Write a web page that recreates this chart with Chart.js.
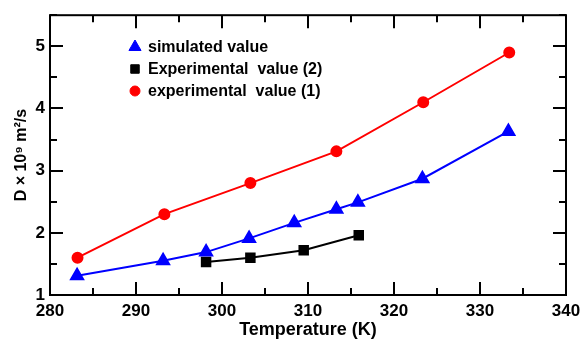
<!DOCTYPE html>
<html lang="en">
<head>
  <meta charset="UTF-8">
  <title>Diffusion coefficient vs temperature</title>
  <script src="https://cdn.jsdelivr.net/npm/chart.js"></script>
  <style>
    html, body { margin: 0; padding: 0; background: #fff; }
    #wrap { width: 587px; height: 339px; }
  </style>
</head>
<body>
  <div id="wrap"><canvas id="grafico" width="587" height="339"></canvas></div>

  <script>
    // values
    const simT = [283.15, 293.15, 298.15, 303.15, 308.4, 313.3, 315.8, 323.3, 333.3];
    const simD = [1.31, 1.55, 1.69, 1.91, 2.16, 2.38, 2.49, 2.87, 3.63];

    const exp2T = [298.15, 303.3, 309.5, 315.9];
    const exp2D = [1.53, 1.60, 1.72, 1.96];

    const exp1T = [283.2, 293.3, 303.3, 313.3, 323.4, 333.4];
    const exp1D = [1.60, 2.30, 2.80, 3.31, 4.10, 4.90];

    const xTicks = [280, 290, 300, 310, 320, 330, 340];
    const yTicks = [1, 2, 3, 4, 5];

    const pts = (xs, ys) => xs.map((x, i) => ({ x, y: ys[i] }));
    const FONT = 'Liberation Sans, Arial, sans-serif';

    // inward ticks on all four sides + frame
    const frameTicks = {
      id: 'frameTicks',
      afterDraw(chart) {
        const { ctx, chartArea: a } = chart;
        const xs = chart.scales.x, ys = chart.scales.y;
        ctx.save();
        ctx.strokeStyle = '#000';
        ctx.lineWidth = 2;
        ctx.strokeRect(a.left, a.top, a.right - a.left, a.bottom - a.top);
        ctx.beginPath();
        for (let v = 280; v <= 340; v += 5) {
          const p = Math.round(xs.getPixelForValue(v));
          const len = v % 10 === 0 ? 13 : 7;
          ctx.moveTo(p, a.bottom); ctx.lineTo(p, a.bottom - len);
          ctx.moveTo(p, a.top); ctx.lineTo(p, a.top + len);
        }
        for (let v = 1; v <= 5.5; v += 0.5) {
          const p = Math.round(ys.getPixelForValue(v));
          const len = v % 1 === 0 ? 13 : 7;
          ctx.moveTo(a.left, p); ctx.lineTo(a.left + len, p);
          ctx.moveTo(a.right, p); ctx.lineTo(a.right - len, p);
        }
        ctx.stroke();
        ctx.restore();
      }
    };

    // legend inside the plot
    const innerLegend = {
      id: 'innerLegend',
      afterDraw(chart) {
        const { ctx } = chart;
        const items = [
          { ds: 0, y: 47, text: 'simulated value' },
          { ds: 1, y: 69, text: 'Experimental  value (2)' },
          { ds: 2, y: 91, text: 'experimental  value (1)' }
        ];
        ctx.save();
        ctx.font = 'bold 16px ' + FONT;
        ctx.textBaseline = 'middle';
        items.forEach(it => {
          const d = chart.data.datasets[it.ds];
          ctx.fillStyle = d.pointBackgroundColor;
          ctx.strokeStyle = d.pointBackgroundColor;
          Chart.helpers.drawPoint(ctx, {
            pointStyle: d.pointStyle, radius: d.pointRadius, rotation: 0, borderWidth: 1
          }, 135, it.y);
          ctx.fillStyle = '#000';
          ctx.fillText(it.text, 148, it.y + 1);
        });
        ctx.restore();
      }
    };

    new Chart(document.getElementById('grafico'), {
      type: 'scatter',
      data: {
        datasets: [
          {
            label: 'simulated value',
            data: pts(simT, simD),
            showLine: true,
            borderColor: '#0000ff',
            borderWidth: 2,
            pointStyle: 'triangle',
            pointRadius: 7,
            pointBackgroundColor: '#0000ff',
            pointBorderColor: '#0000ff'
          },
          {
            label: 'Experimental value (2)',
            data: pts(exp2T, exp2D),
            showLine: true,
            borderColor: '#000',
            borderWidth: 2,
            pointStyle: 'rect',
            pointRadius: 6,
            pointBackgroundColor: '#000',
            pointBorderColor: '#000'
          },
          {
            label: 'experimental value (1)',
            data: pts(exp1T, exp1D),
            showLine: true,
            borderColor: '#ff0000',
            borderWidth: 2,
            pointStyle: 'circle',
            pointRadius: 5,
            pointBackgroundColor: '#ff0000',
            pointBorderColor: '#ff0000'
          }
        ]
      },
      options: {
        responsive: false,
        animation: false,
        layout: { padding: { top: 9, right: 21, left: 0, bottom: 0 } },
        plugins: { legend: { display: false }, tooltip: { enabled: false } },
        scales: {
          x: {
            type: 'linear',
            min: 280, max: 340,
            afterBuildTicks: s => { s.ticks = xTicks.map(v => ({ value: v })); },
            afterFit: s => { s.height = 44; },
            grid: { display: false, drawTicks: false },
            border: { display: false },
            ticks: { color: '#000', padding: 6, font: { family: FONT, size: 17, weight: 'bold' } },
            title: {
              display: true, text: 'Temperature (K)', color: '#000', padding: { top: 0, bottom: 0 },
              font: { family: FONT, size: 18, weight: 'bold', lineHeight: 1 }
            }
          },
          y: {
            min: 1, max: 5.5,
            afterBuildTicks: s => { s.ticks = yTicks.map(v => ({ value: v })); },
            afterFit: s => { s.width = 50; },
            grid: { display: false, drawTicks: false },
            border: { display: false },
            ticks: { color: '#000', padding: 5, font: { family: FONT, size: 17, weight: 'bold' } },
            title: {
              display: true, text: 'D × 10⁹ m²/s', color: '#000', padding: { top: 12, bottom: 0 },
              font: { family: FONT, size: 16, weight: 'bold' }
            }
          }
        }
      },
      plugins: [frameTicks, innerLegend]
    });
  </script>
</body>
</html>
